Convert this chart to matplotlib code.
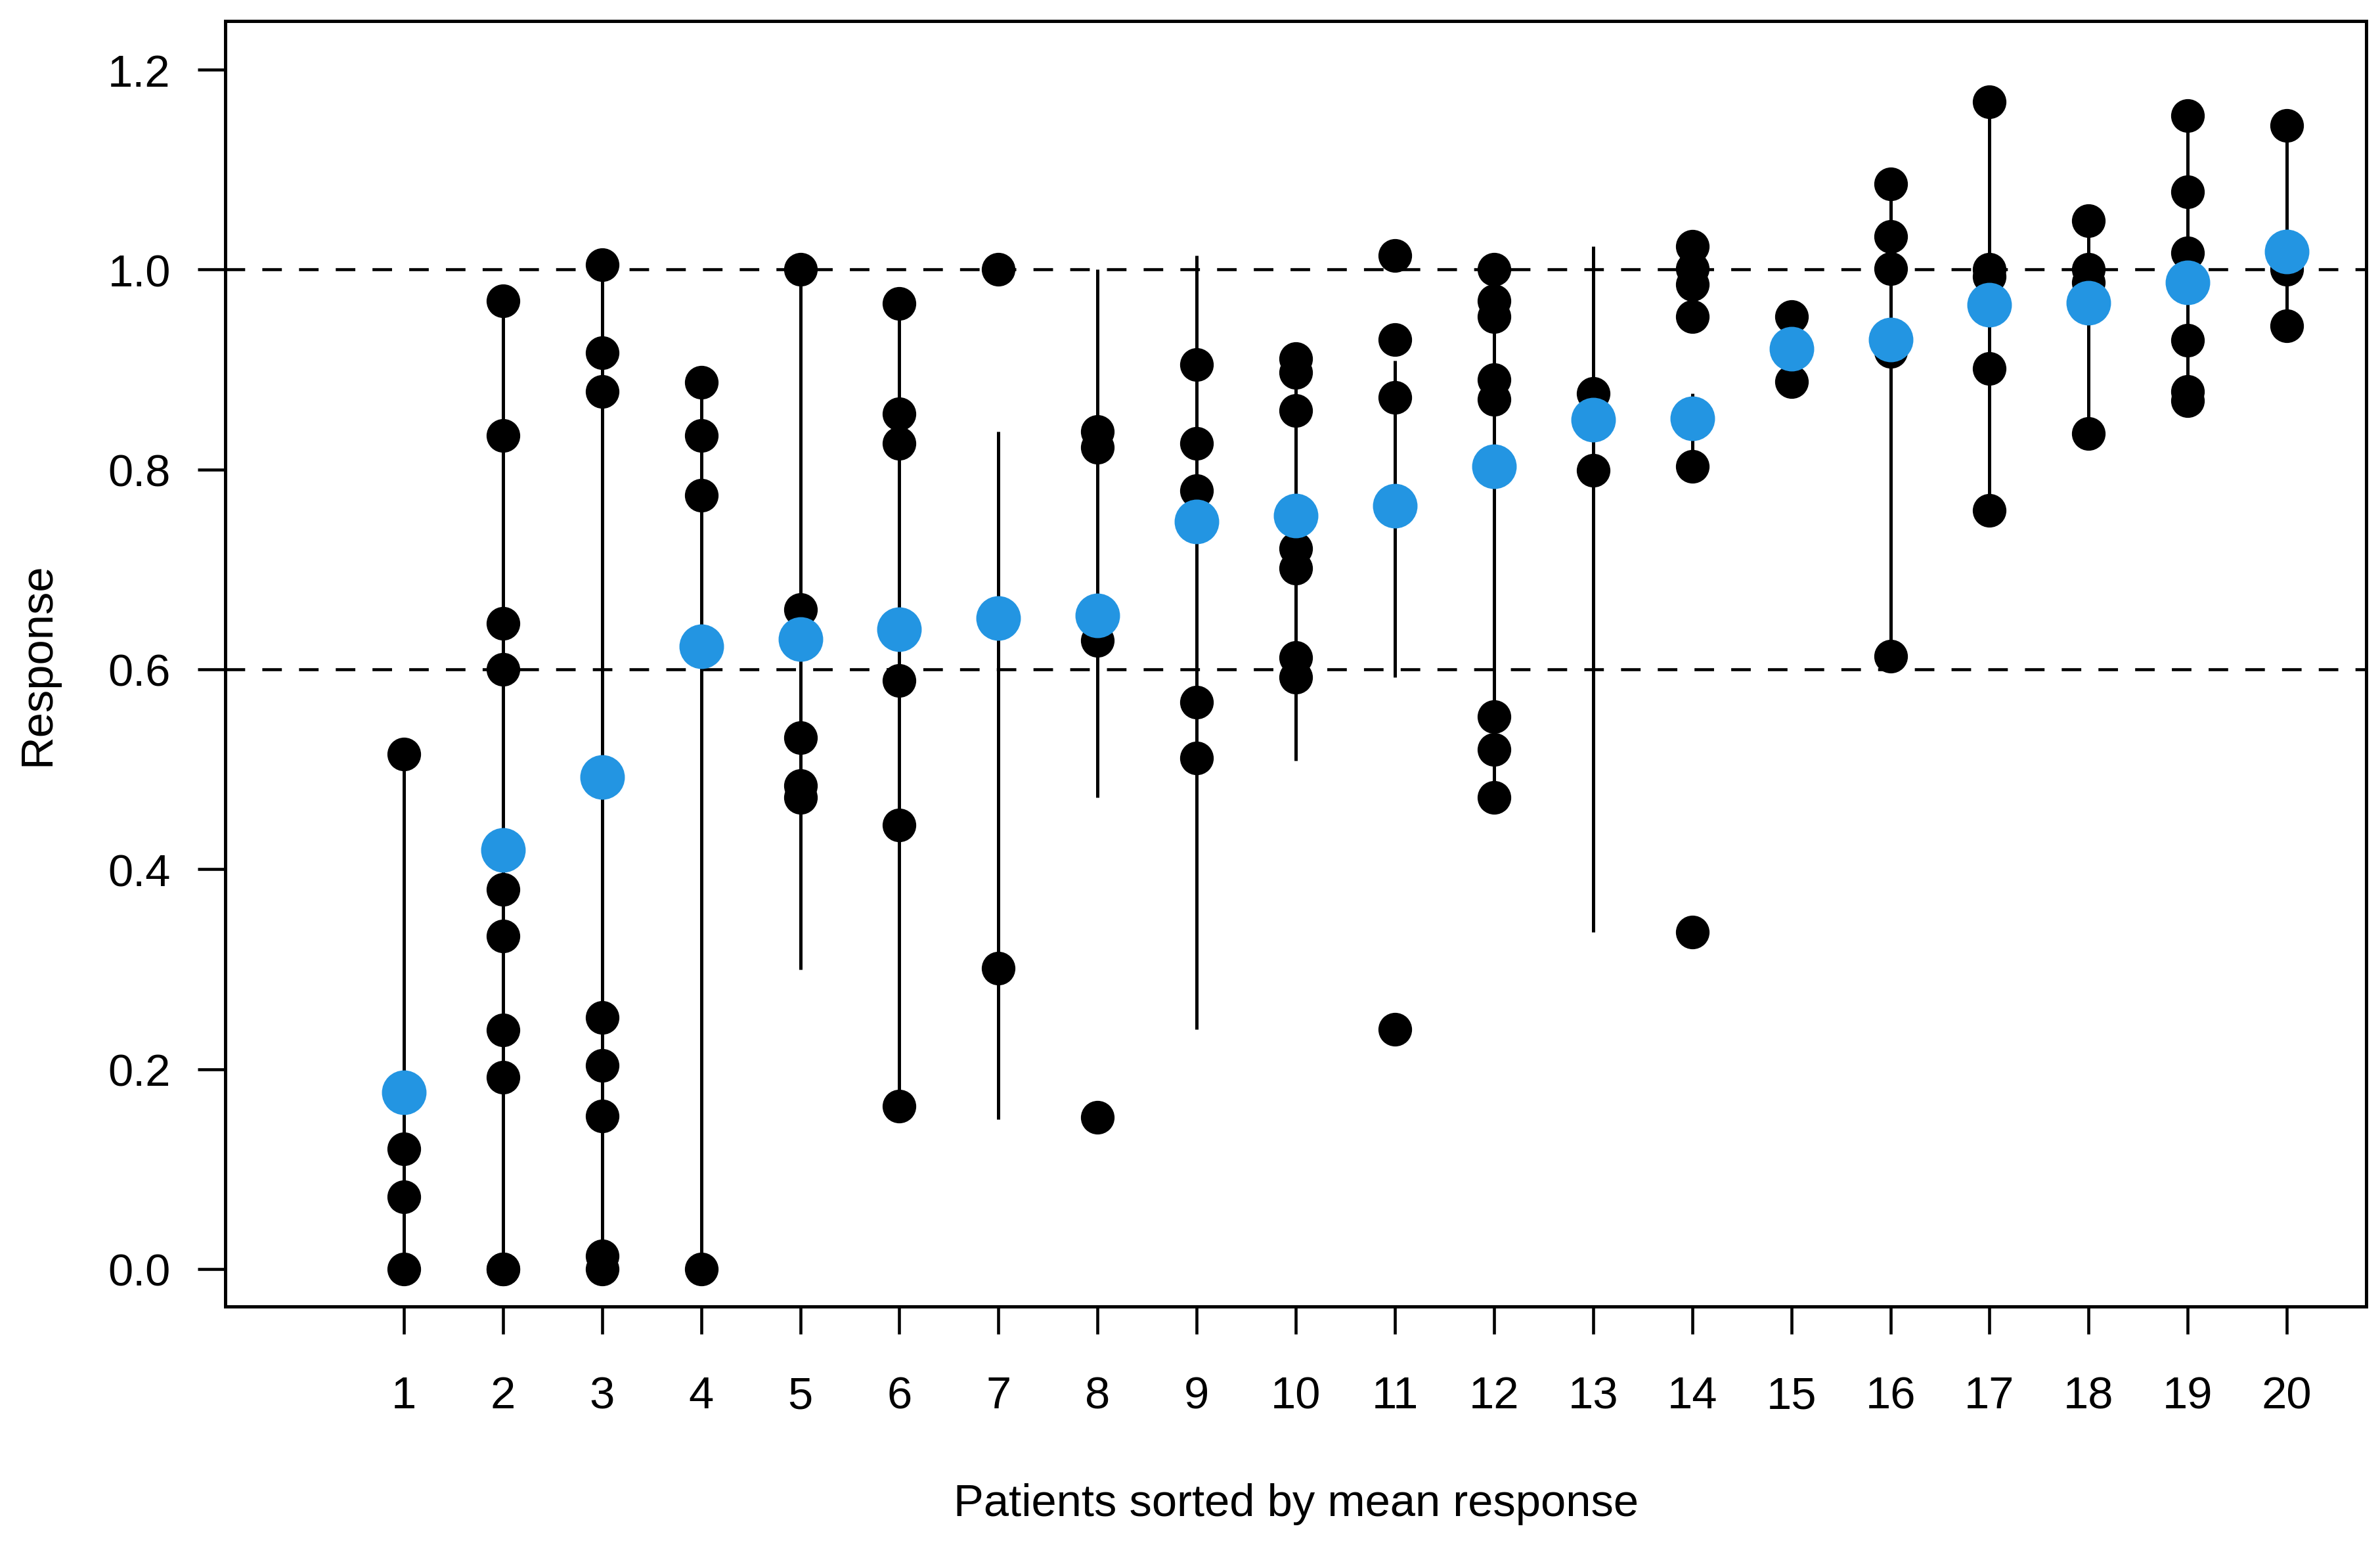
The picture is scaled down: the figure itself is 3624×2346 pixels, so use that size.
import matplotlib
matplotlib.use('Agg')
import matplotlib.pyplot as plt

plt.rcParams['font.family'] = ['Liberation Sans', 'DejaVu Sans']

# values, one list per patient (sorted by mean response)
patients = list(range(1, 21))
responses = [
    [0.515, 0.120, 0.072, 0.0],
    [0.969, 0.834, 0.646, 0.600, 0.380, 0.333, 0.239, 0.192, 0.0, 0.0],
    [1.005, 0.917, 0.878, 0.252, 0.204, 0.153, 0.013, 0.0],
    [0.887, 0.834, 0.774, 0.0],
    [1.000, 0.660, 0.532, 0.484, 0.472],
    [0.966, 0.856, 0.826, 0.589, 0.444, 0.163],
    [1.000, 0.301],
    [0.838, 0.822, 0.629, 0.152],
    [0.905, 0.826, 0.779, 0.567, 0.511],
    [0.911, 0.897, 0.859, 0.721, 0.701, 0.612, 0.592],
    [1.014, 0.930, 0.872, 0.240],
    [1.000, 0.969, 0.953, 0.890, 0.870, 0.553, 0.520, 0.472],
    [0.876, 0.799],
    [1.023, 1.001, 0.985, 0.953, 0.803, 0.337],
    [0.953, 0.888],
    [1.086, 1.033, 1.001, 0.918, 0.613],
    [1.168, 1.000, 0.993, 0.901, 0.759],
    [1.049, 1.000, 0.987, 0.836],
    [1.154, 1.078, 1.017, 0.929, 0.878, 0.869],
    [1.144, 1.000, 0.944],
]
means = [0.177, 0.419, 0.492, 0.623, 0.630, 0.640, 0.651, 0.654, 0.748, 0.754,
         0.764, 0.803, 0.850, 0.851, 0.921, 0.930, 0.965, 0.967, 0.987, 1.018]
line_low = [0.0, 0.0, 0.0, 0.0, 0.300, 0.163, 0.150, 0.472, 0.240, 0.509,
            0.592, 0.472, 0.337, 0.803, 0.888, 0.613, 0.759, 0.836, 0.869, 0.944]
line_high = [0.515, 0.969, 1.005, 0.887, 1.000, 0.966, 0.838, 1.000, 1.014, 0.911,
             0.909, 1.000, 1.023, 0.876, 0.953, 1.086, 1.168, 1.049, 1.154, 1.144]
ref_levels = [0.6, 1.0]

fig = plt.figure(figsize=(12.08, 7.823), dpi=300)
ax = fig.add_axes([0.0947, 0.1521, 0.8995, 0.8338])

for y in ref_levels:
    ax.axhline(y, color='black', lw=1.1, ls=(0, (6.5, 5.7)), zorder=1)

ax.vlines(patients, line_low, line_high, color='black', lw=1.2, zorder=2)

for p, vals in zip(patients, responses):
    ax.plot([p] * len(vals), vals, 'o', color='black', ms=12.3, mew=0, zorder=3)

ax.plot(patients, means, 'o', color='#2395E2', ms=16.3, mew=0, zorder=4)

ax.set_xlim(-0.8, 20.8)
ax.set_ylim(-0.0375, 1.2486)
ax.set_xticks(patients)
ax.set_yticks([0.0, 0.2, 0.4, 0.6, 0.8, 1.0, 1.2])
ax.set_yticklabels(['0.0', '0.2', '0.4', '0.6', '0.8', '1.0', '1.2'])
ax.tick_params(axis='both', direction='out', labelsize=16.5, width=1.1,
               length=10, color='black')
ax.tick_params(axis='y', pad=10)
ax.tick_params(axis='x', pad=15)
for s in ax.spines.values():
    s.set_linewidth(1.2)

ax.set_xlabel('Patients sorted by mean response', fontsize=16.5, labelpad=24)
ax.set_ylabel('Response', fontsize=16.5, labelpad=18)

fig.savefig('out.png', dpi=300)
plt.close(fig)
